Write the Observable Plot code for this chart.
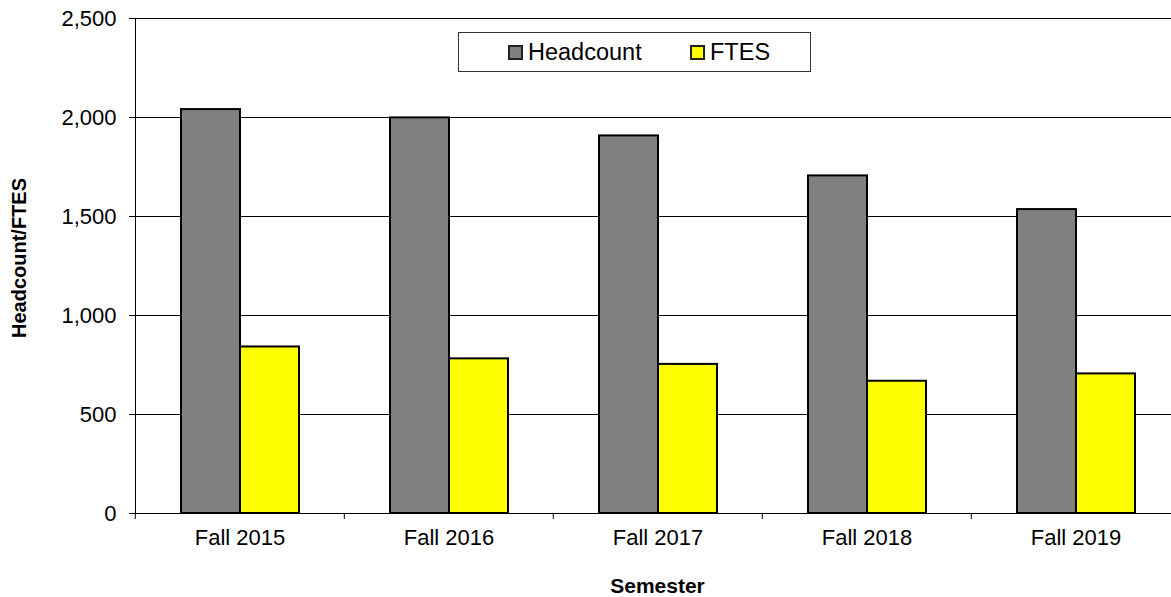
<!DOCTYPE html>
<html>
<head>
<meta charset="utf-8">
<script src="https://cdn.jsdelivr.net/npm/d3@7"></script>
<script src="https://cdn.jsdelivr.net/npm/@observablehq/plot@0.6"></script>
<style>
  html, body { margin: 0; padding: 0; background: #fff; overflow: hidden; }
  #wrap { position: relative; width: 1171px; height: 597px; font-family: Arial, "Liberation Sans", sans-serif; color: #000; }
  #legend { position: absolute; left: 458px; top: 32px; width: 351px; height: 38px; border: 1px solid #333; background: #fff;
            font-size: 23.5px; }
  .item { display: flex; align-items: center; position: absolute; top: 0; height: 38px; }
  .sw { width: 11px; height: 11px; border: 2px solid #222; margin-right: 5px; }
  #xtitle { position: absolute; left: 0; width: 1315px; text-align: center; top: 574px; font-weight: bold; font-size: 21px; line-height: 24px; }
  #ytitle { position: absolute; left: 19px; top: 258px; font-weight: bold; font-size: 20px; white-space: nowrap;
            transform: translate(-50%, -50%) rotate(-90deg); line-height: 20px; }
</style>
</head>
<body>
<div id="wrap"></div>
<script>
const semesters = ["Fall 2015", "Fall 2016", "Fall 2017", "Fall 2018", "Fall 2019"];
const headcount = [2040, 1998, 1907, 1705, 1535];
const ftes = [841, 781, 753, 668, 705];
const seriesNames = ["Headcount", "FTES"];
const seriesColors = ["#808080", "#FFFF00"];
const yTicks = [0, 500, 1000, 1500, 2000, 2500];

const rows = semesters.flatMap((s, i) => [
  {semester: s, series: seriesNames[0], value: headcount[i]},
  {semester: s, series: seriesNames[1], value: ftes[i]}
]);

const W = 1171, H = 597, left = 134, plotRight = 1181;
const step = (plotRight - left) / semesters.length;

const chart = Plot.plot({
  width: W, height: H,
  marginLeft: left, marginRight: W - plotRight, marginTop: 18, marginBottom: 84,
  style: {fontFamily: "Arial, 'Liberation Sans', sans-serif", fontSize: "22px", color: "#000", background: "white"},
  fx: {domain: semesters, padding: 0, label: null},
  x: {domain: seriesNames, paddingInner: 0, paddingOuter: 0.745, axis: null},
  y: {domain: [0, 2500], ticks: yTicks, tickFormat: d3.format(","), tickSize: 6, tickPadding: 13, line: true, label: null},
  color: {domain: seriesNames, range: seriesColors},
  marks: [
    Plot.gridY(yTicks.filter(d => d > 0), {stroke: "#000", strokeOpacity: 1, strokeWidth: 1}),
    Plot.barY(rows, {fx: "semester", x: "series", y: "value", fill: "series", stroke: "#000", strokeWidth: 2}),
    Plot.ruleY([0], {stroke: "#000", strokeWidth: 1}),
    Plot.axisFx({anchor: "bottom", tickSize: 6, text: null, dx: -step / 2, label: null}),
    Plot.axisFx({anchor: "bottom", tickSize: 0, tickPadding: 16, fontSize: 22, label: null})
  ]
});

const wrap = document.getElementById("wrap");
wrap.appendChild(chart);

const legend = document.createElement("div");
legend.id = "legend";
const offsets = [49, 231];
seriesNames.forEach((name, i) => {
  const it = document.createElement("div");
  it.className = "item";
  it.style.left = offsets[i] + "px";
  const sw = document.createElement("div");
  sw.className = "sw";
  sw.style.background = seriesColors[i];
  const t = document.createElement("span");
  t.textContent = name;
  it.appendChild(sw); it.appendChild(t);
  legend.appendChild(it);
});
wrap.appendChild(legend);

const xt = document.createElement("div");
xt.id = "xtitle"; xt.textContent = "Semester";
wrap.appendChild(xt);
const yt = document.createElement("div");
yt.id = "ytitle"; yt.textContent = "Headcount/FTES";
wrap.appendChild(yt);
</script>
</body>
</html>
